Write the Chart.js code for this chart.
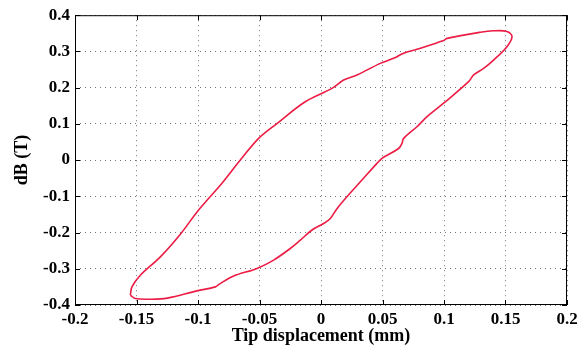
<!DOCTYPE html>
<html>
<head>
<meta charset="utf-8">
<script src="https://cdn.jsdelivr.net/npm/chart.js@4"></script>
<style>
  body { margin: 0; background: #fff; }
  #wrap { width: 585px; height: 345px; }
</style>
</head>
<body>
<div id="wrap"><canvas id="loop-chart" width="585" height="345"></canvas></div>
<script>
'use strict';

// hysteresis loop (x: mm, y: T)
var tipDisp = [
    -0.155, -0.1537, -0.1469, -0.1306, -0.114, -0.1008, -0.0927, -0.0817, -0.0656,
    -0.0507, -0.0358, -0.0128, 0.0089, 0.0184, 0.0293, 0.0482, 0.059, 0.0672,
    0.078, 0.0997, 0.1024, 0.1295, 0.1403, 0.1512, 0.1553, 0.1512, 0.1403, 0.1322,
    0.1241, 0.120, 0.0997, 0.0862, 0.078, 0.0672, 0.0658, 0.0631, 0.0496, 0.0455,
    0.0333, 0.0211, 0.013, 0.0076, 0.0021, -0.0073, -0.0168, -0.025, -0.0385,
    -0.052, -0.071, -0.083, -0.0859, -0.1008, -0.125, -0.1388, -0.151, -0.155
];
var dB = [
    -0.373, -0.350, -0.318, -0.267, -0.203, -0.143, -0.111, -0.069, 0.000,
    0.060, 0.101, 0.161, 0.198, 0.221, 0.235, 0.267, 0.281, 0.295,
    0.306, 0.330, 0.336, 0.353, 0.357, 0.355, 0.341, 0.313, 0.276, 0.253,
    0.235, 0.2165, 0.157, 0.120, 0.092, 0.060, 0.046, 0.032, 0.005, -0.009,
    -0.055, -0.101, -0.134, -0.161, -0.175, -0.193, -0.221, -0.244, -0.276,
    -0.299, -0.320, -0.343, -0.350, -0.361, -0.381, -0.384, -0.382, -0.373
];
var xTicks = [-0.2, -0.15, -0.1, -0.05, 0, 0.05, 0.1, 0.15, 0.2];
var yTicks = [-0.4, -0.3, -0.2, -0.1, 0, 0.1, 0.2, 0.3, 0.4];

var points = [];
for (var i = 0; i < tipDisp.length; i++) {
    points.push({x: tipDisp[i], y: dB[i]});
}

var tickFont = {family: 'Liberation Serif', size: 17, weight: 'bold'};
var titleFont = {family: 'Liberation Serif', size: 18, weight: 'bold', lineHeight: 1};

// matlab style frame with inward ticks
var frameBox = {
    id: 'frameBox',
    afterDraw: function(chart) {
        var c = chart.ctx, a = chart.chartArea;
        var sx = chart.scales.x, sy = chart.scales.y;
        c.save();
        c.strokeStyle = '#000';
        c.lineWidth = 1;
        c.strokeRect(a.left + 0.5, a.top + 0.5, a.right - a.left - 1, a.bottom - a.top - 1);
        c.beginPath();
        xTicks.forEach(function(v) {
            var px = Math.round(sx.getPixelForValue(v)) + 0.5;
            c.moveTo(px, a.bottom); c.lineTo(px, a.bottom - 5);
            c.moveTo(px, a.top); c.lineTo(px, a.top + 5);
        });
        yTicks.forEach(function(v) {
            var py = Math.round(sy.getPixelForValue(v)) + 0.5;
            c.moveTo(a.left, py); c.lineTo(a.left + 5, py);
            c.moveTo(a.right, py); c.lineTo(a.right - 5, py);
        });
        c.stroke();
        c.restore();
    }
};

var ctx = document.getElementById('loop-chart').getContext('2d');
var loopChart = new Chart(ctx, {
    type: 'scatter',
    data: {
        datasets: [{
            data: points,
            showLine: true,
            borderColor: '#ec1d45',
            borderWidth: 1.6,
            pointRadius: 0,
            tension: 0.35,
            fill: false
        }]
    },
    options: {
        responsive: false,
        animation: false,
        layout: {padding: {left: 0, right: 18, top: 15, bottom: 0}},
        plugins: {legend: {display: false}, tooltip: {enabled: false}},
        scales: {
            x: {
                type: 'linear', min: -0.2, max: 0.2,
                afterBuildTicks: function(s) { s.ticks = xTicks.map(function(v) { return {value: v}; }); },
                afterFit: function(s) { s.height = 40; },
                grid: {color: 'rgba(0,0,0,0.55)', drawTicks: false},
                border: {display: false, dash: [1, 4]},
                ticks: {color: '#000', font: tickFont, padding: 4, maxRotation: 0,
                        callback: function(v) { return String(Math.round(v * 100) / 100); }},
                title: {display: true, text: 'Tip displacement (mm)', color: '#000', font: titleFont,
                        padding: {top: 0, bottom: 0}}
            },
            y: {
                type: 'linear', min: -0.4, max: 0.4,
                afterBuildTicks: function(s) { s.ticks = yTicks.map(function(v) { return {value: v}; }); },
                afterFit: function(s) { s.width = 75; },
                grid: {color: 'rgba(0,0,0,0.55)', drawTicks: false},
                border: {display: false, dash: [1, 4]},
                ticks: {color: '#000', font: tickFont, padding: 5,
                        callback: function(v) { return String(Math.round(v * 10) / 10); }},
                title: {display: true, text: 'dB (T)', color: '#000', font: titleFont,
                        padding: {top: 13, bottom: 0}}
            }
        }
    },
    plugins: [frameBox]
});
</script>
</body>
</html>
